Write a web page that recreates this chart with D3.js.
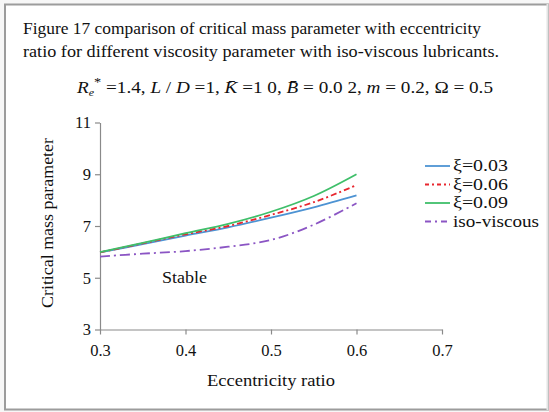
<!DOCTYPE html>
<html>
<head>
<meta charset="utf-8">
<script src="https://cdn.jsdelivr.net/npm/d3@7"></script>
<style>
  html, body { margin: 0; padding: 0; background: #ffffff; }
  svg { display: block; }
  text { font-family: "Liberation Serif", "Times New Roman", serif; fill: #111; }
</style>
</head>
<body>
<svg id="chart" width="549" height="412"></svg>
<script>
// Eccentricity ratio samples
const eccentricity = [0.3, 0.35, 0.4, 0.45, 0.5, 0.55, 0.6];

// Critical mass parameter for each viscosity parameter
const xi003 = [5.98, 6.30, 6.63, 6.95, 7.32, 7.72, 8.18];
const xi006 = [5.98, 6.33, 6.68, 7.00, 7.43, 7.92, 8.58];
const xi009 = [5.99, 6.35, 6.72, 7.08, 7.55, 8.16, 9.00];
const isoViscous = [5.82, 5.93, 6.03, 6.20, 6.46, 7.05, 7.88];

const seriesNames = ["ξ=0.03", "ξ=0.06", "ξ=0.09", "iso-viscous"];
const seriesColors = ["#4d93d3", "#e8262e", "#3fbf6a", "#8b55c4"];
const seriesDash = [null, "6,3,2,3", null, "10,4,2,4"];
const legendDash = [null, "4,3,2,3", null, "6,4,2,4"];
const legendWidths = [55, 55, 55, 86];

const xTicks = [0.3, 0.4, 0.5, 0.6, 0.7];
const yTicks = [3, 5, 7, 9, 11];

const svg = d3.select("#chart");

// Frame around the figure
svg.append("rect").attr("x", 0).attr("y", 0).attr("width", 549).attr("height", 412).attr("fill", "#f7f7f7");
svg.append("rect").attr("x", 5).attr("y", 4.5).attr("width", 543).attr("height", 405)
  .attr("fill", "#ffffff").attr("stroke", "#9c9c9c").attr("stroke-width", 2);
svg.append("line").attr("x1", 547.5).attr("x2", 547.5).attr("y1", 4).attr("y2", 410)
  .attr("stroke", "#e4e4e4").attr("stroke-width", 2);

// Caption
svg.append("text").attr("x", 23).attr("y", 34).attr("font-size", 16)
  .attr("textLength", 458).attr("lengthAdjust", "spacingAndGlyphs")
  .text("Figure 17  comparison of critical mass parameter with eccentricity");
svg.append("text").attr("x", 23).attr("y", 57).attr("font-size", 16)
  .attr("textLength", 476).attr("lengthAdjust", "spacingAndGlyphs")
  .text("ratio for different viscosity parameter with  iso-viscous lubricants.");

// Parameter line
const eq = svg.append("text").attr("x", 77).attr("y", 93).attr("font-size", 16)
  .attr("textLength", 416).attr("lengthAdjust", "spacingAndGlyphs");
eq.append("tspan").attr("font-style", "italic").text("R");
eq.append("tspan").attr("font-style", "italic").attr("font-size", 10).attr("dy", 3).text("e");
eq.append("tspan").attr("font-size", 12).attr("dy", -10).text("*");
eq.append("tspan").attr("dy", 7).text(" =1.4, ");
eq.append("tspan").attr("font-style", "italic").text("L");
eq.append("tspan").text(" / ");
eq.append("tspan").attr("font-style", "italic").text("D");
eq.append("tspan").text(" =1, ");
eq.append("tspan").attr("font-style", "italic").text("K\u0304");
eq.append("tspan").text(" =1 0, ");
eq.append("tspan").attr("font-style", "italic").text("B\u0304");
eq.append("tspan").text(" = 0.0 2, ");
eq.append("tspan").attr("font-style", "italic").text("m");
eq.append("tspan").text(" = 0.2, Ω = 0.5");

// Scales
const x = d3.scaleLinear().domain([0.3, 0.7]).range([100, 442]);
const y = d3.scaleLinear().domain([3, 11]).range([329.5, 122.5]);

// Axes
const xAxis = svg.append("g").attr("transform", `translate(0,${y(3)})`)
  .call(d3.axisBottom(x).tickValues(xTicks).tickFormat(d3.format(".1f")).tickSize(5).tickSizeOuter(0));
const yAxis = svg.append("g").attr("transform", `translate(${x(0.3)},0)`)
  .call(d3.axisLeft(y).tickValues(yTicks).tickFormat(d3.format("d")).tickSize(5).tickSizeOuter(0));
[xAxis, yAxis].forEach(a => {
  a.select(".domain").attr("stroke", "#8a8a8a").attr("stroke-width", 1.2);
  a.selectAll(".tick line").attr("stroke", "#8a8a8a").attr("stroke-width", 1.2);
  a.selectAll(".tick text").attr("font-family", "Liberation Serif, serif").attr("font-size", 16.5).attr("fill", "#111");
});
xAxis.selectAll(".tick text").attr("y", 15).attr("dy", "0.71em");
yAxis.selectAll(".tick text").attr("x", -9);

// Axis titles
svg.append("text").attr("x", 207).attr("y", 386)
  .attr("font-size", 16).attr("textLength", 128).attr("lengthAdjust", "spacingAndGlyphs")
  .text("Eccentricity ratio");
svg.append("text").attr("transform", `translate(53,308) rotate(-90)`)
  .attr("font-size", 16).attr("textLength", 170).attr("lengthAdjust", "spacingAndGlyphs")
  .text("Critical mass parameter");

// Region label
svg.append("text").attr("x", 162).attr("y", 283).attr("font-size", 16)
  .attr("textLength", 45).attr("lengthAdjust", "spacingAndGlyphs").text("Stable");

// Curves
const allSeries = [xi003, xi006, xi009, isoViscous];
const line = d3.line().x((d, i) => x(eccentricity[i])).y(d => y(d)).curve(d3.curveCatmullRom.alpha(0.5));
allSeries.forEach((vals, k) => {
  svg.append("path").datum(vals).attr("d", line)
    .attr("fill", "none").attr("stroke", seriesColors[k]).attr("stroke-width", 1.8)
    .attr("stroke-dasharray", seriesDash[k]);
});

// Legend
const legend = svg.append("g");
seriesNames.forEach((name, k) => {
  const ly = 166 + k * 18.5;
  legend.append("line").attr("x1", 425).attr("x2", 450).attr("y1", ly).attr("y2", ly)
    .attr("stroke", seriesColors[k]).attr("stroke-width", 1.8).attr("stroke-dasharray", legendDash[k]);
  legend.append("text").attr("x", 453).attr("y", ly + 5).attr("font-size", 16)
    .attr("textLength", legendWidths[k]).attr("lengthAdjust", "spacingAndGlyphs").text(name);
});
</script>
</body>
</html>
